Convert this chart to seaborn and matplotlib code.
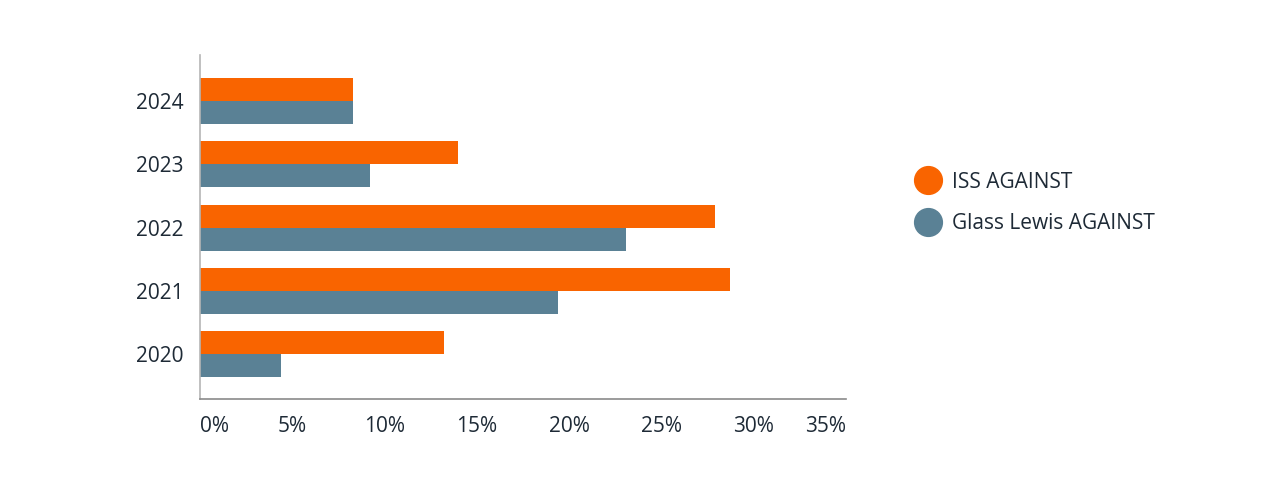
import seaborn as sns
import pandas as pd
import matplotlib.pyplot as plt
from matplotlib.lines import Line2D

# values (percent)
years = ['2024', '2023', '2022', '2021', '2020']
iss_against = [8.3, 14.0, 27.9, 28.7, 13.2]
gl_against = [8.3, 9.2, 23.1, 19.4, 4.4]
series = ['ISS AGAINST', 'Glass Lewis AGAINST']
colors = ['#f96400', '#5a8195']
xticks = [0, 5, 10, 15, 20, 25, 30, 35]

rows = []
for y, a, b in zip(years, iss_against, gl_against):
    rows.append([y, series[0], a])
    rows.append([y, series[1], b])
df = pd.DataFrame(rows, columns=['Year', 'Series', 'Value'])

sns.set_style('white')
plt.rcParams['font.family'] = ['Open Sans', 'DejaVu Sans']
text_color = '#1e2a36'

fig = plt.figure(figsize=(12.8, 4.97), dpi=100)
ax = fig.add_axes([200 / 1280, 1 - 399 / 497, 646 / 1280, 344 / 497])

sns.barplot(data=df, y='Year', x='Value', hue='Series', order=years,
            hue_order=series, palette=colors, orient='h', width=0.73,
            saturation=1, linewidth=0, ax=ax)
ax.get_legend().remove()

ax.set_xlim(0, 35)
ax.set_ylim(4.71, -0.73)
ax.set_xticks(xticks)
labels = ax.set_xticklabels([f'{t}%' for t in xticks])
labels[0].set_ha('left')
labels[-1].set_ha('right')
ax.set_xlabel('')
ax.set_ylabel('')
ax.tick_params(axis='x', length=0, pad=12, labelsize=15, labelcolor=text_color)
ax.tick_params(axis='y', length=0, pad=12, labelsize=15, labelcolor=text_color)

for s in ['top', 'right']:
    ax.spines[s].set_visible(False)
ax.spines['left'].set_color('#b5b5b5')
ax.spines['bottom'].set_color('#8a8a8a')
ax.spines['left'].set_linewidth(1.2)
ax.spines['bottom'].set_linewidth(1.2)

handles = [Line2D([], [], marker='o', linestyle='', markersize=20,
                  markerfacecolor=c, markeredgecolor=c) for c in colors]
fig.legend(handles, series, loc='center left',
           bbox_to_anchor=(897 / 1280, 1 - 203 / 497), frameon=False,
           fontsize=15, labelcolor=text_color, handletextpad=0.55,
           labelspacing=1.0, handlelength=1.2)

fig.savefig('out.png', dpi=100)
